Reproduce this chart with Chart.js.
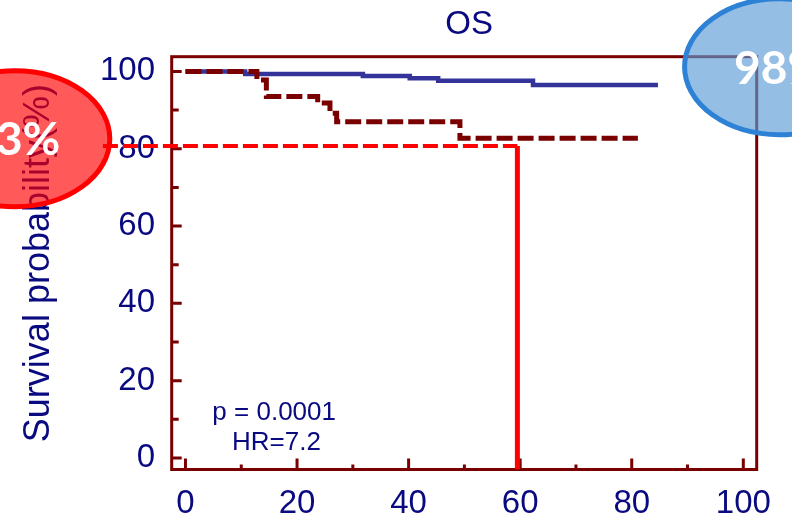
<!DOCTYPE html>
<html>
<head>
<meta charset="utf-8">
<script src="https://cdn.jsdelivr.net/npm/chart.js@4"></script>
<style>
  html, body { margin: 0; padding: 0; background: #fff; }
  #wrap { width: 792px; height: 523px; position: relative; }
</style>
</head>
<body>
<div id="wrap"><canvas id="osChart"></canvas></div>
<script>
// OS - Kaplan-Meier curves
const xTicks = [0, 20, 40, 60, 80, 100];
const xMinorTicks = [10, 30, 50, 70, 90];
const yTicks = [0, 20, 40, 60, 80, 100];
const yMinorTicks = [10, 30, 50, 70, 90];

// upper group (solid blue)
const blueTimes = [0, 10.7, 31.8, 40.2, 45.3, 62.3, 84.7];
const blueSurv = [100, 99.3, 98.8, 98.2, 97.6, 96.5, 96.5];
// lower group (dashed dark red)
const redTimes = [0, 12.8, 14.5, 23.7, 25.9, 27.1, 49.2, 81.1];
const redSurv = [100, 97.8, 93.5, 91.8, 89.2, 87.0, 82.7, 82.7];

// reference lines at 60 months
const refTimes = [-14.8, 59.5];
const refSurv = [80.7, 80.7];
const refDropTimes = [59.5, 59.5];
const refDropSurv = [80.7, -3];

const calloutLabels = ['83%', '98%'];
const calloutTimes = [-30.6, 106.5];
const calloutSurv = [82.6, 101.2];

const statLines = ['p = 0.0001', 'HR=7.2'];
const statTimes = [15.9, 16.3];
const statSurv = [11.8, 4.0];

const navy = '#0a0a80';
const axisColor = '#7a0000';
const font = '"Liberation Sans", Arial, sans-serif';

const toPoints = (xs, ys) => xs.map((t, i) => ({ x: t, y: ys[i] }));

const framePlugin = {
  id: 'frame',
  beforeDatasetsDraw(chart) {
    const { ctx, chartArea: a, scales: { x, y } } = chart;
    ctx.save();
    ctx.strokeStyle = axisColor;
    ctx.lineWidth = 3;
    ctx.strokeRect(a.left, a.top, a.right - a.left, a.bottom - a.top);
    ctx.beginPath();
    // ticks point inwards
    xTicks.forEach((v) => { const px = x.getPixelForValue(v); ctx.moveTo(px, a.bottom); ctx.lineTo(px, a.bottom - 11); });
    xMinorTicks.forEach((v) => { const px = x.getPixelForValue(v); ctx.moveTo(px, a.bottom); ctx.lineTo(px, a.bottom - 5); });
    yTicks.forEach((v) => { const py = y.getPixelForValue(v); ctx.moveTo(a.left, py); ctx.lineTo(a.left + 10, py); });
    yMinorTicks.forEach((v) => { const py = y.getPixelForValue(v); ctx.moveTo(a.left, py); ctx.lineTo(a.left + 7, py); });
    ctx.stroke();

    ctx.fillStyle = navy;
    ctx.font = '26px ' + font;
    ctx.textAlign = 'center';
    ctx.textBaseline = 'middle';
    statLines.forEach((s, i) => ctx.fillText(s, x.getPixelForValue(statTimes[i]), y.getPixelForValue(statSurv[i])));
    ctx.restore();
  },
  afterDraw(chart) {
    const { ctx, chartArea: a, scales: { x, y } } = chart;
    ctx.save();
    ctx.fillStyle = navy;
    ctx.font = '33px ' + font;
    ctx.textAlign = 'center';
    ctx.textBaseline = 'middle';
    ctx.fillText('OS', (a.left + a.right) / 2 + 5, 25);

    const styles = [
      { fill: 'rgba(255, 0, 0, 0.65)', stroke: '#ff0000' },
      { fill: 'rgba(91, 155, 213, 0.65)', stroke: '#2e82d6' },
    ];
    calloutLabels.forEach((txt, i) => {
      const cx = x.getPixelForValue(calloutTimes[i]);
      const cy = y.getPixelForValue(calloutSurv[i]);
      ctx.beginPath();
      ctx.ellipse(cx, cy, 95, 68, 0, 0, Math.PI * 2);
      ctx.fillStyle = styles[i].fill;
      ctx.fill();
      ctx.lineWidth = 5;
      ctx.strokeStyle = styles[i].stroke;
      ctx.stroke();
      ctx.fillStyle = '#fff';
      ctx.font = 'bold 46px Lato, "Open Sans", sans-serif';
      ctx.fillText(txt, cx, cy + 2);
    });
    ctx.restore();
  },
};

const ctx = document.getElementById('osChart').getContext('2d');
new Chart(ctx, {
  type: 'line',
  data: {
    datasets: [
      {
        label: 'ref',
        data: toPoints(refTimes, refSurv),
        borderColor: '#ff0000',
        borderWidth: 4,
        borderDash: [15, 5],
        pointRadius: [7, 0],
        pointStyle: 'triangle',
        pointRotation: -90,
        pointBackgroundColor: '#ff0000',
        pointBorderColor: '#ff0000',
        clip: false,
      },
      {
        label: 'refDrop',
        data: toPoints(refDropTimes, refDropSurv),
        borderColor: '#ff0000',
        borderWidth: 5,
        pointRadius: 0,
      },
      {
        label: 'low',
        data: toPoints(redTimes, redSurv),
        borderColor: '#7a0000',
        borderWidth: 5,
        borderDash: [16, 5],
        stepped: 'before',
        pointRadius: 0,
      },
      {
        label: 'high',
        data: toPoints(blueTimes, blueSurv),
        borderColor: '#333399',
        borderWidth: 4.5,
        stepped: 'before',
        pointRadius: 0,
      },
    ],
  },
  options: {
    responsive: true,
    maintainAspectRatio: false,
    animation: false,
    layout: { padding: { top: 56.7, right: 35.3, left: 0, bottom: 0 } },
    plugins: { legend: { display: false }, tooltip: { enabled: false }, title: { display: false } },
    scales: {
      x: {
        type: 'linear',
        min: -2.47,
        max: 102.4,
        afterBuildTicks: (s) => { s.ticks = xTicks.map((v) => ({ value: v })); },
        afterFit: (s) => { s.height = 53.5; },
        grid: { display: false, drawTicks: false },
        border: { display: false },
        ticks: { color: navy, font: { size: 33, family: font }, padding: 15, maxRotation: 0, autoSkip: false },
      },
      y: {
        type: 'linear',
        min: -2.97,
        max: 103.8,
        afterBuildTicks: (s) => { s.ticks = yTicks.map((v) => ({ value: v })); },
        afterFit: (s) => { s.width = 171.7; },
        grid: { display: false, drawTicks: false },
        border: { display: false },
        ticks: { color: navy, font: { size: 33, family: font }, padding: 16.7 },
        title: {
          display: true,
          text: 'Survival probability(%)',
          color: navy,
          font: { size: 36, family: font },
          padding: { top: 17, bottom: 0 },
        },
      },
    },
  },
  plugins: [framePlugin],
});
</script>
</body>
</html>
